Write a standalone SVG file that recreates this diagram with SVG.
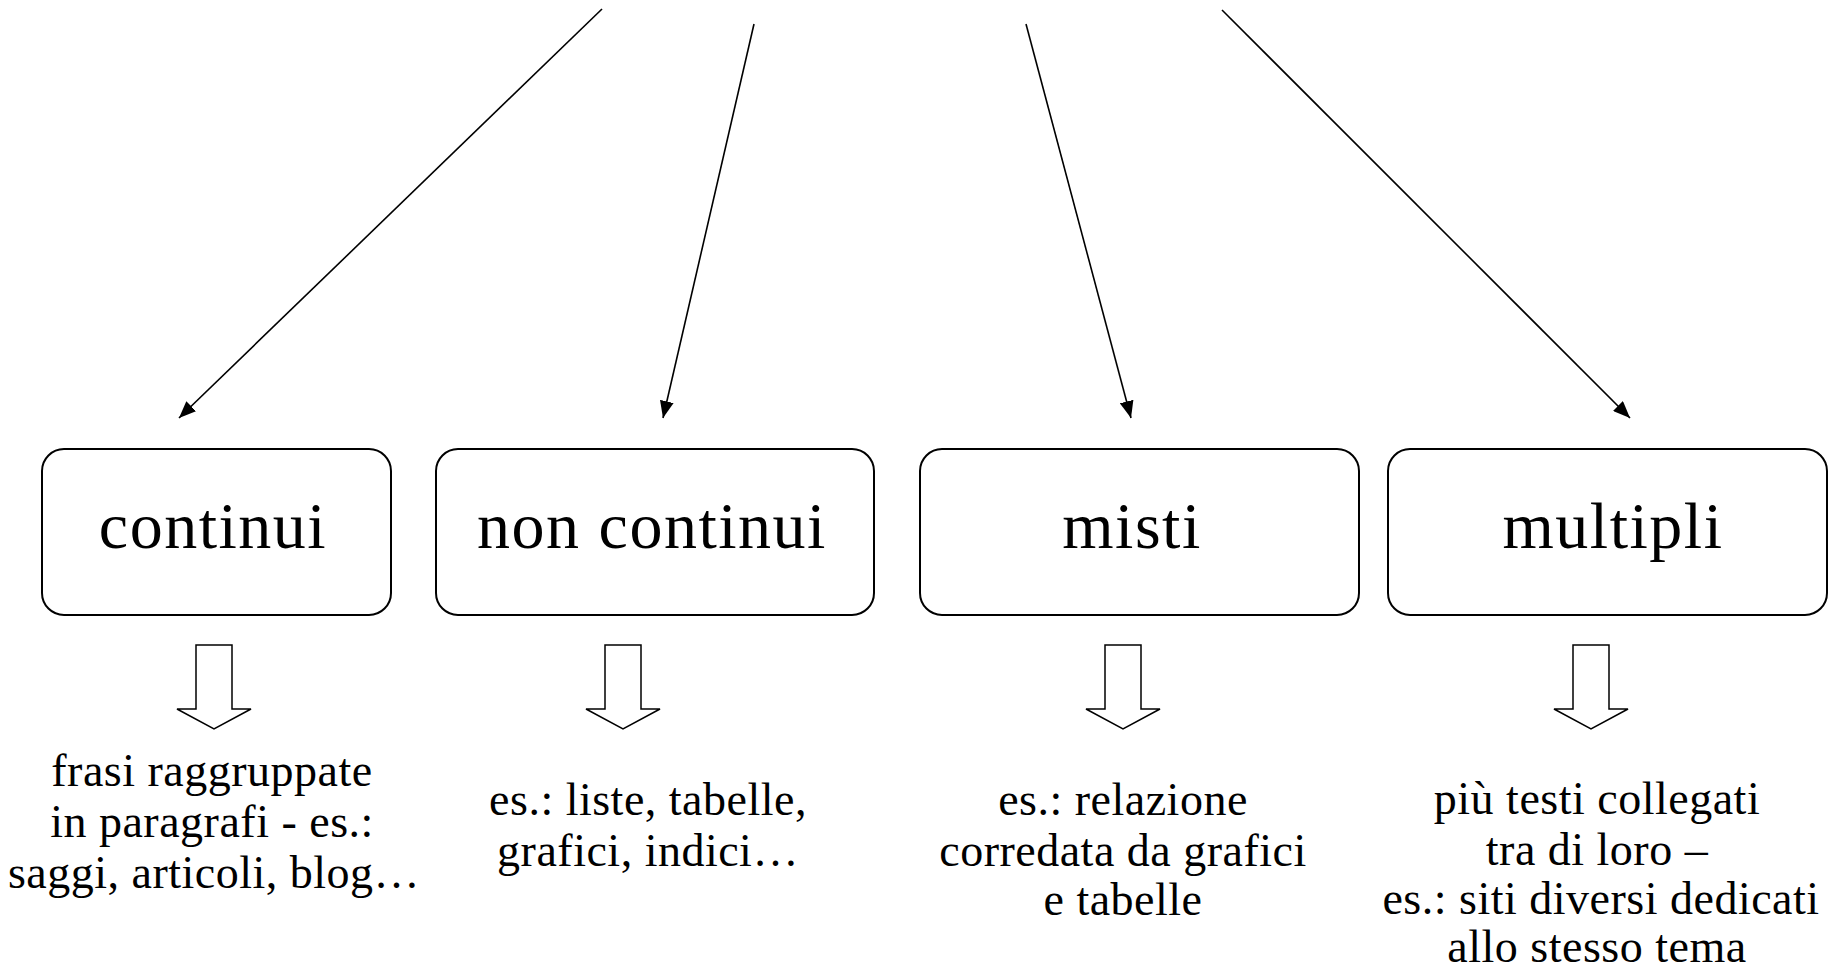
<svg xmlns="http://www.w3.org/2000/svg" width="1832" height="974" viewBox="0 0 1832 974">
  <style>
    .box { fill: #ffffff; stroke: #000000; stroke-width: 2; }
    .lbl { font-family: "Liberation Serif", "Times New Roman", serif; font-size: 66px; letter-spacing: 1.5px; fill: #000000; text-anchor: middle; }
    .desc { font-family: "Liberation Serif", "Times New Roman", serif; font-size: 46px; letter-spacing: 0.5px; fill: #000000; text-anchor: middle; }
    .conn { stroke: #000000; stroke-width: 1.6; fill: none; marker-end: url(#arr); }
    .hollow { fill: #ffffff; stroke: #000000; stroke-width: 1.5; stroke-linejoin: miter; }
  </style>
  <defs>
    <marker id="arr" markerUnits="userSpaceOnUse" markerWidth="18" markerHeight="14" refX="17" refY="7" orient="auto">
      <path d="M0,0 L17,7 L0,14 z" fill="#000000"/>
    </marker>
  </defs>
  <rect width="1832" height="974" fill="#ffffff"/>

  <g id="connectors">
    <line class="conn" x1="602" y1="9" x2="179" y2="418"/>
    <line class="conn" x1="754" y1="24" x2="663" y2="418"/>
    <line class="conn" x1="1026" y1="24" x2="1131" y2="418"/>
    <line class="conn" x1="1222" y1="10" x2="1630" y2="418"/>
  </g>

  <g id="node-continui">
    <rect class="box" x="42" y="449" width="349" height="166" rx="22" ry="22"/>
    <text class="lbl" x="213" y="548">continui</text>
  </g>
  <g id="node-non-continui">
    <rect class="box" x="436" y="449" width="438" height="166" rx="22" ry="22"/>
    <text class="lbl" x="652" y="548">non continui</text>
  </g>
  <g id="node-misti">
    <rect class="box" x="920" y="449" width="439" height="166" rx="22" ry="22"/>
    <text class="lbl" x="1132" y="548">misti</text>
  </g>
  <g id="node-multipli">
    <rect class="box" x="1388" y="449" width="439" height="166" rx="22" ry="22"/>
    <text class="lbl" x="1613" y="548">multipli</text>
  </g>

  <g id="arrow-continui">
    <path class="hollow" d="M196,645 H232 V709 H251 L214,729 L177,709 H196 Z"/>
  </g>
  <g id="arrow-non-continui">
    <path class="hollow" d="M605,645 H641 V709 H660 L623,729 L586,709 H605 Z"/>
  </g>
  <g id="arrow-misti">
    <path class="hollow" d="M1105,645 H1141 V709 H1160 L1123,729 L1086,709 H1105 Z"/>
  </g>
  <g id="arrow-multipli">
    <path class="hollow" d="M1573,645 H1609 V709 H1628 L1591,729 L1554,709 H1573 Z"/>
  </g>

  <g id="desc-continui">
    <text class="desc" x="212" y="786">frasi raggruppate</text>
    <text class="desc" x="212" y="837">in paragrafi - es.:</text>
    <text class="desc" x="214" y="888">saggi, articoli, blog…</text>
  </g>
  <g id="desc-non-continui">
    <text class="desc" x="648" y="815">es.: liste, tabelle,</text>
    <text class="desc" x="648" y="866">grafici, indici…</text>
  </g>
  <g id="desc-misti">
    <text class="desc" x="1123" y="815">es.: relazione</text>
    <text class="desc" x="1123" y="866">corredata da grafici</text>
    <text class="desc" x="1123" y="915">e tabelle</text>
  </g>
  <g id="desc-multipli">
    <text class="desc" x="1597" y="814">più testi collegati</text>
    <text class="desc" x="1597" y="865">tra di loro –</text>
    <text class="desc" x="1601" y="914">es.: siti diversi dedicati</text>
    <text class="desc" x="1597" y="962">allo stesso tema</text>
  </g>
</svg>
